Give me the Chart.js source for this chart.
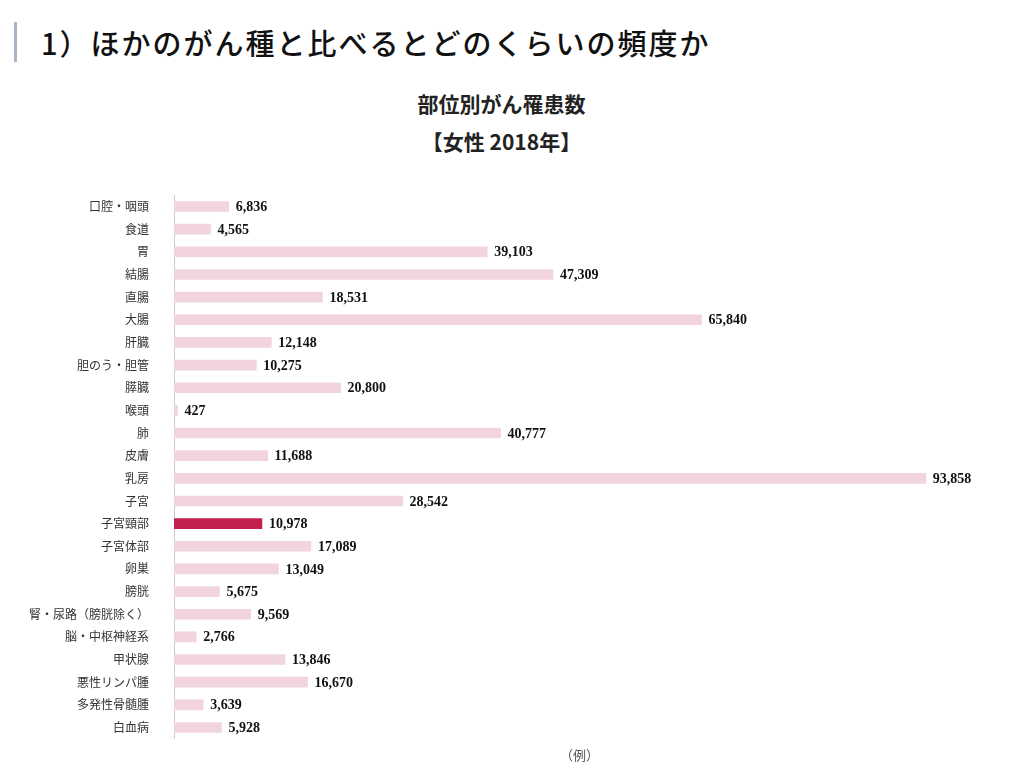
<!DOCTYPE html>
<html><head><meta charset="utf-8">
<script src="https://cdn.jsdelivr.net/npm/chart.js@4/dist/chart.umd.min.js"></script>
<style>
body{margin:0;width:1035px;height:771px;background:#fff;font-family:"Noto Sans CJK JP",sans-serif;position:relative;overflow:hidden}
#head{position:absolute;left:14px;top:22px;height:40px;border-left:3px solid #a9b4c6;padding-left:24px;font-size:29px;font-weight:500;line-height:40px;color:#111;letter-spacing:2px}
#t1{position:absolute;left:0;width:1003px;top:88px;text-align:center;font-size:21px;font-weight:bold;color:#222}
#t2{position:absolute;left:0;width:1003px;top:126px;text-align:center;font-size:21px;font-weight:bold;color:#222}
#ex{position:absolute;left:560px;top:745px;font-size:13px;color:#555}
#wrap{position:absolute;left:0;top:171px;width:1035px;height:592px}
</style></head><body>
<div id="head">1）ほかのがん種と比べるとどのくらいの頻度か</div>
<div id="t1">部位別がん罹患数</div>
<div id="t2">【女性 2018年】</div>
<div id="wrap"><canvas id="c"></canvas></div>
<div id="ex">（例）</div>
<script>
// data
const sites = ['口腔・咽頭','食道','胃','結腸','直腸','大腸','肝臓','胆のう・胆管','膵臓','喉頭','肺','皮膚','乳房','子宮','子宮頸部','子宮体部','卵巣','膀胱','腎・尿路（膀胱除く）','脳・中枢神経系','甲状腺','悪性リンパ腫','多発性骨髄腫','白血病'];
const cases = [6836,4565,39103,47309,18531,65840,12148,10275,20800,427,40777,11688,93858,28542,10978,17089,13049,5675,9569,2766,13846,16670,3639,5928];
const highlight = '子宮頸部';

const labelPlugin = {
  id: 'valueLabels',
  afterDatasetsDraw(chart) {
    const ctx = chart.ctx;
    const meta = chart.getDatasetMeta(0);
    ctx.save();
    ctx.font = 'bold 14px "Liberation Serif", serif';
    ctx.fillStyle = '#111';
    ctx.textBaseline = 'middle';
    meta.data.forEach((bar, i) => {
      ctx.fillText(cases[i].toLocaleString('en-US'), bar.x + 7, bar.y + 1);
    });
    ctx.restore();
  }
};

new Chart(document.getElementById('c'), {
  type: 'bar',
  data: {
    labels: sites,
    datasets: [{
      data: cases,
      backgroundColor: sites.map(s => s === highlight ? '#c2214f' : '#f2d4de'),
      barThickness: 10
    }]
  },
  options: {
    indexAxis: 'y',
    responsive: true, maintainAspectRatio: false, animation: false,
    layout: { padding: { top: 9, bottom: 5, right: 60 } },
    plugins: { legend: { display: false }, tooltip: { enabled: false } },
    scales: {
      x: { display: false, min: 0, max: 100000 },
      y: {
        afterFit(s) { s.width = 174; },
        grid: { display: false },
        border: { display: true, color: '#c9c9da' },
        ticks: { color: '#333', padding: 17, font: { size: 12, family: '"Noto Sans CJK JP"' } }
      }
    }
  },
  plugins: [labelPlugin]
});
</script>
</body></html>
